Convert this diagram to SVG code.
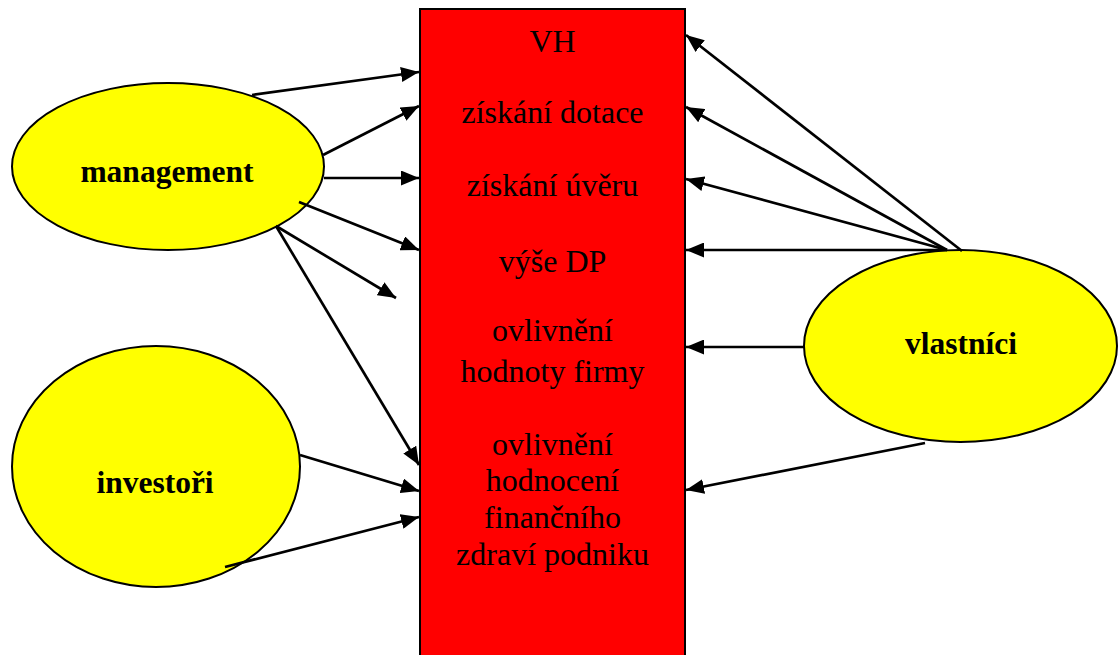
<svg xmlns="http://www.w3.org/2000/svg" width="1120" height="655" viewBox="0 0 1120 655">
<style>
.ell{fill:#FFFF00;stroke:#000;stroke-width:2}
.box{fill:#FF0000;stroke:#000;stroke-width:2}
.lbl{font-family:"Liberation Serif","Times New Roman",serif;font-weight:bold;font-size:31.5px;fill:#000;text-anchor:middle}
.txt{font-family:"Liberation Serif","Times New Roman",serif;font-size:32px;fill:#000;text-anchor:middle}
.con line{stroke:#000;stroke-width:2.7;marker-end:url(#ah)}
</style>
<defs>
<marker id="ah" markerUnits="userSpaceOnUse" markerWidth="19" markerHeight="15" refX="18" refY="7.5" orient="auto">
<path d="M0,0 L18,7.5 L0,15 z" fill="#000"/>
</marker>
</defs>
<rect width="1120" height="655" fill="#fff"/>
<g id="vh-box">
<rect class="box" x="420" y="9" width="265" height="660"/>
<text class="txt" x="552.5" y="52">VH</text>
<text class="txt" x="552.5" y="123">získání dotace</text>
<text class="txt" x="552.5" y="196">získání úvěru</text>
<text class="txt" x="552.5" y="272">výše DP</text>
<text class="txt" x="552.5" y="341">ovlivnění</text>
<text class="txt" x="552.5" y="382">hodnoty firmy</text>
<text class="txt" x="552.5" y="455">ovlivnění</text>
<text class="txt" x="552.5" y="491">hodnocení</text>
<text class="txt" x="552.5" y="528">finančního</text>
<text class="txt" x="552.5" y="565">zdraví podniku</text>
</g>
<g id="management">
<ellipse class="ell" cx="168" cy="166.5" rx="156" ry="83.5"/>
<text class="lbl" x="167" y="182">management</text>
</g>
<g id="investori">
<ellipse class="ell" cx="156" cy="466.5" rx="144" ry="120.5"/>
<text class="lbl" x="155" y="493">investoři</text>
</g>
<g id="vlastnici">
<ellipse class="ell" cx="960.5" cy="346" rx="156.5" ry="96"/>
<text class="lbl" x="961" y="354">vlastníci</text>
</g>
<g id="connectors" class="con">
<line x1="252" y1="95" x2="419" y2="72"/>
<line x1="323" y1="155" x2="419" y2="106"/>
<line x1="324" y1="178" x2="419" y2="178"/>
<line x1="299" y1="202" x2="419" y2="250"/>
<line x1="276" y1="226" x2="396" y2="298"/>
<line x1="276" y1="226" x2="419" y2="465"/>
<line x1="300" y1="455" x2="419" y2="491"/>
<line x1="225" y1="567" x2="419" y2="517"/>
<line x1="962" y1="251" x2="686" y2="35"/>
<line x1="947" y1="250" x2="686" y2="107"/>
<line x1="947" y1="250" x2="686" y2="179"/>
<line x1="947" y1="250" x2="686" y2="250"/>
<line x1="805" y1="347" x2="686" y2="347"/>
<line x1="925" y1="443" x2="686" y2="490"/>
</g>
</svg>
